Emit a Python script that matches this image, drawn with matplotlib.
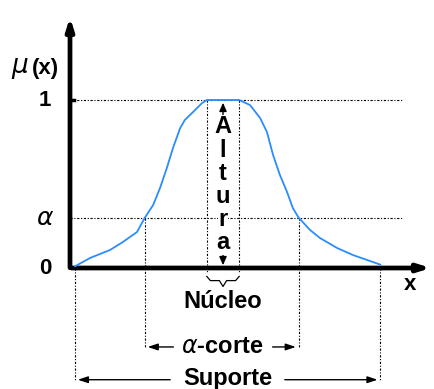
import matplotlib.pyplot as plt
import numpy as np

# membership function sampled along the universe
x_curve = [0.14, 0.56, 1.11, 1.47, 1.86, 2.08, 2.31, 2.5, 2.69, 2.86, 3.06, 3.19, 3.42, 3.67, 3.8,
           4.7, 5.0, 5.28, 5.47, 5.64, 5.83, 6.03, 6.19, 6.35, 6.67, 6.94, 7.42, 7.86, 8.25, 8.62]
mu_curve = [0.01, 0.06, 0.107, 0.155, 0.214, 0.3, 0.375, 0.476, 0.595, 0.714, 0.833, 0.881, 0.929, 0.982, 1.0,
            1.0, 0.97, 0.893, 0.81, 0.673, 0.554, 0.452, 0.357, 0.3, 0.226, 0.179, 0.119, 0.077, 0.048, 0.02]

alpha = 0.3
core = (3.8, 4.7)
alpha_cut = (2.08, 6.35)
support = (0.14, 8.62)

height_letters = ["A", "l", "t", "u", "r", "a"]
labels = {"core": "Núcleo", "cut": r"$\alpha$-corte", "support": "Suporte"}

FONT = "Liberation Sans"
DOT = dict(color="black", linestyle=(0, (2, 1.5, 1, 1.5)), linewidth=0.8)

fig = plt.figure(figsize=(4.35, 3.89), dpi=100)
ax = fig.add_axes([0, 0, 1, 1])
ax.set_xlim(-70 / 36, 365 / 36)
ax.set_ylim(-121 / 168, 268 / 168)
ax.axis("off")

# axes with arrows
ax.annotate("", xy=(0, 1.51), xytext=(0, -0.015),
            arrowprops=dict(arrowstyle="-|>,head_length=0.7,head_width=0.22", lw=3.4, color="black"))
ax.annotate("", xy=(10.1, 0), xytext=(-0.04, 0),
            arrowprops=dict(arrowstyle="-|>,head_length=0.7,head_width=0.22", lw=3.4, color="black"))

# reference levels
x_end = 9.22
ax.plot([0, x_end], [1, 1], **DOT)
ax.plot([0, x_end], [alpha, alpha], **DOT)
ax.plot([0, 0.12], [1, 1], color="black", lw=2.5)

# vertical guides
for xc in core:
    ax.plot([xc, xc], [1, -0.03], **DOT)
for xc in alpha_cut:
    ax.plot([xc, xc], [alpha, -0.47], **DOT)
y_sup = -0.665
for xc in support:
    ax.plot([xc, xc], [0, y_sup], **DOT)

ax.plot(x_curve, mu_curve, color="#2b8cff", lw=1.3, zorder=3)

# height arrow with stacked letters
x_mid = (core[0] + core[1]) / 2
ax.annotate("", xy=(x_mid, 1.0), xytext=(x_mid, 0.0),
            arrowprops=dict(arrowstyle="<|-|>,head_length=0.5,head_width=0.22", lw=1.0, color="black"))
for ch, yl in zip(height_letters, np.linspace(0.84, 0.15, len(height_letters))):
    ax.text(x_mid, yl, ch, ha="center", va="center", fontsize=17, fontweight="bold", family=FONT,
            bbox=dict(facecolor="white", edgecolor="none", pad=0.5), zorder=4)

# brace under the core
yb = -0.05
bx = [core[0], core[0] + 0.1, x_mid - 0.1, x_mid, x_mid + 0.1, core[1] - 0.1, core[1]]
by = [yb, yb - 0.025, yb - 0.025, yb - 0.06, yb - 0.025, yb - 0.025, yb]
ax.plot(bx, by, color="black", lw=0.9)
ax.text(x_mid, -0.2, labels["core"], ha="center", va="center", fontsize=17, fontweight="bold", family=FONT)

# alpha-cut span
y_cut = -0.47
ax.text((alpha_cut[0] + alpha_cut[1]) / 2 + 0.02, y_cut, labels["cut"], ha="center", va="center",
        fontsize=17, fontweight="bold", family=FONT)
arrow_kw = dict(arrowstyle="-|>,head_length=0.6,head_width=0.2", lw=1.0, color="black")
ax.annotate("", xy=(alpha_cut[0], y_cut), xytext=(2.95, y_cut), arrowprops=arrow_kw)
ax.annotate("", xy=(alpha_cut[1], y_cut), xytext=(5.55, y_cut), arrowprops=arrow_kw)

# support span
x_sup_mid = (support[0] + support[1]) / 2
ax.text(x_sup_mid, y_sup + 0.01, labels["support"], ha="center", va="center", fontsize=17,
        fontweight="bold", family=FONT)
ax.annotate("", xy=(support[0], y_sup), xytext=(2.86, y_sup), arrowprops=arrow_kw)
ax.annotate("", xy=(support[1], y_sup), xytext=(5.89, y_sup), arrowprops=arrow_kw)

# tick labels and axis names
ax.text(-0.69, 1.0, "1", ha="center", va="center", fontsize=16, fontweight="bold", family=FONT)
ax.text(-0.69, alpha, r"$\alpha$", ha="center", va="center", fontsize=18)
ax.text(-0.69, 0.0, "0", ha="center", va="center", fontsize=16, fontweight="bold", family=FONT)
ax.text(-1.4, 1.19, r"$\mu$", ha="center", va="center", fontsize=19)
ax.text(-0.67, 1.19, "(x)", ha="center", va="center", fontsize=16, fontweight="bold", family=FONT)
ax.text(9.44, -0.1, "x", ha="center", va="center", fontsize=16, fontweight="bold", family=FONT)

fig.savefig("out.png", dpi=100)
